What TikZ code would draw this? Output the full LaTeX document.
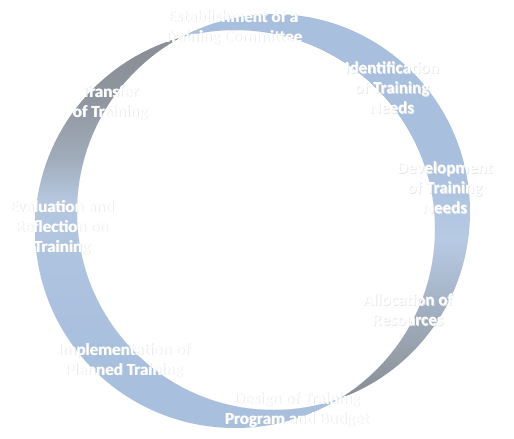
\documentclass[tikz,border=0pt]{standalone}
\usepackage{fontspec}
\setmainfont{Carlito}
\definecolor{bm}{HTML}{A8BFDE}
\definecolor{bl}{HTML}{B7CAE3}
\definecolor{gA}{HTML}{A5B3C6}
\definecolor{gB}{HTML}{969EA9}
\definecolor{gC}{HTML}{878B91}
\definecolor{lA}{HTML}{8A8E94}
\definecolor{lB}{HTML}{8F969F}
\definecolor{lC}{HTML}{A1ACBB}
\definecolor{lD}{HTML}{B5C7DF}
\definecolor{lE}{HTML}{AEC3DF}
\definecolor{ghostc}{HTML}{E6E8EB}
\pgfdeclareverticalshading{rcres}{100bp}{color(0bp)=(gC); color(28bp)=(gC); color(34bp)=(gB); color(40.5bp)=(gA); color(47.7bp)=(bl); color(58bp)=(bm); color(100bp)=(bm)}
\pgfdeclareverticalshading{lcres}{100bp}{color(0bp)=(bm); color(34bp)=(bm); color(45bp)=(lE); color(52.5bp)=(lD); color(57.5bp)=(lC); color(64.6bp)=(lB); color(72bp)=(lA); color(100bp)=(lA)}
\newcommand\shl[1]{\leavevmode\rlap{\kern0.8pt\raisebox{-0.8pt}{\textcolor{ghostc}{#1}}}#1}
\tikzset{
  lbl/.style={text=white, font=\bfseries\fontsize{17}{20}\selectfont, align=center, inner sep=0pt},
}
\begin{document}
\begin{tikzpicture}[x=1pt,y=-1pt]
\useasboundingbox (0,0) rectangle (514,439);
% right crescent
\begin{scope}
  \clip (273.5,212) ellipse [x radius=196.5, y radius=198];
  \shade[even odd rule, shading=rcres] (273.5,212) ellipse [x radius=196.5, y radius=198] (235,229) ellipse [x radius=200, y radius=199];
\end{scope}
% left crescent
\begin{scope}
  \clip (235,229) ellipse [x radius=200, y radius=199];
  \shade[even odd rule, shading=lcres] (273.5,212) ellipse [x radius=196.5, y radius=198] (235,229) ellipse [x radius=200, y radius=199];
\end{scope}
% labels
\node[lbl] (n1) at (233,28) {\shl{Establishment of a}\\\shl{Training Committee}};
\node[lbl] (n2) at (392,88) {\shl{Identification}\\\shl{of Training}\\\shl{Needs}};
\node[lbl] (n3) at (445,188) {\shl{Development}\\\shl{of Training}\\\shl{Needs}};
\node[lbl] (n4) at (408,310) {\shl{Allocation of}\\\shl{Resources}};
\node[lbl] (n5) at (297,410) {\shl{Design of Training}\\\shl{Program and Budget}};
\node[lbl] (n6) at (124,361) {\shl{Implementation of}\\\shl{Planned Training}};
\node[lbl] (n7) at (62,228) {\shl{Evaluation and}\\\shl{Reflection on}\\\shl{Training}};
\node[lbl] (n8) at (110,103) {\shl{Transfer}\\\shl{of Training}};
\end{tikzpicture}
\end{document}
